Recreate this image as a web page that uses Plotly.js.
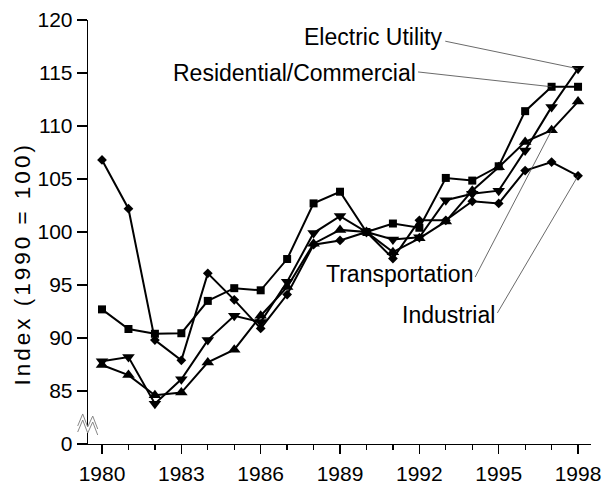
<!DOCTYPE html>
<html>
<head>
<meta charset="utf-8">
<script src="https://cdn.plot.ly/plotly-3.0.1.min.js"></script>
<style>
html,body{margin:0;padding:0;background:#fff;}
#chart{width:605px;height:485px;}
.annotation[data-index="4"] text{letter-spacing:3px;}
</style>
</head>
<body>
<div id="chart"></div>
<script>
var years = [1980,1981,1982,1983,1984,1985,1986,1987,1988,1989,1990,1991,1992,1993,1994,1995,1996,1997,1998];
var electricUtility = [87.8,88.2,83.8,86.1,89.8,92.1,91.5,95.3,99.9,101.5,100,99.3,99.5,103.0,103.6,103.9,107.7,111.8,115.4];
var residentialCommercial = [92.7,90.85,90.4,90.45,93.5,94.7,94.5,97.45,102.7,103.8,100,100.8,100.4,105.1,104.85,106.2,111.4,113.7,113.7];
var transportation = [87.45,86.5,84.6,84.85,87.7,88.9,92.1,94.8,98.9,100.2,100,98.1,99.4,101.0,103.9,106.1,108.5,109.6,112.3];
var industrial = [106.8,102.2,89.8,87.9,96.1,93.6,90.9,94.1,98.8,99.2,100,97.5,101.1,101.1,102.9,102.7,105.8,106.6,105.3];
var yTickVals = [80,85,90,95,100,105,110,115,120];
var yTickText = ['0','85','90','95','100','105','110','115','120'];
var xTickVals = [1980,1983,1986,1989,1992,1995,1998];

var FONT = 'Liberation Sans, Arial, sans-serif';
function series(name, y, sym, size){
  return {x: years, y: y, name: name, type: 'scatter', mode: 'lines+markers',
    line: {color: '#000', width: 2}, marker: {symbol: sym, size: size, color: '#000'},
    showlegend: false, cliponaxis: false};
}
var data = [
  series('Electric Utility', electricUtility, 'triangle-down', 11),
  series('Residential/Commercial', residentialCommercial, 'square', 8),
  series('Transportation', transportation, 'triangle-up', 11),
  series('Industrial', industrial, 'diamond', 7.5)
];

// plot-area helpers (paper coords from pixel offsets for the axis-break glyph)
var L = 88.3, R = 590.7, T = 20, B = 444;
function px(x){ return (x - L) / (R - L); }
function py(y){ return (B - y) / (B - T); }
function path(pts){ return 'M' + pts.map(function(p){ return px(p[0]).toFixed(4) + ',' + py(p[1]).toFixed(4); }).join(' L') ; }
var zz1 = [[78,426],[83,414],[88,427],[93,416],[98,429]];
var zz2 = [[78,432],[83,420],[88,433],[93,422],[98,435]];
var fillPts = zz1.concat(zz2.slice().reverse());

var shapes = [
  {type: 'path', xref: 'paper', yref: 'paper', path: path(fillPts) + ' Z', fillcolor: '#fff', line: {width: 0}},
  {type: 'path', xref: 'paper', yref: 'paper', path: path(zz1), line: {color: '#888', width: 1}},
  {type: 'path', xref: 'paper', yref: 'paper', path: path(zz2), line: {color: '#888', width: 1}},
  {type: 'line', xref: 'x', yref: 'y', x0: 1992.98, y0: 118.0, x1: years[18], y1: electricUtility[18], line: {color: '#444', width: 0.8}},
  {type: 'line', xref: 'x', yref: 'y', x0: 1991.95, y0: 115.1, x1: years[17], y1: residentialCommercial[17], line: {color: '#444', width: 0.8}},
  {type: 'line', xref: 'x', yref: 'y', x0: 1994.11, y0: 95.75, x1: years[17], y1: transportation[17], line: {color: '#444', width: 0.8}},
  {type: 'line', xref: 'x', yref: 'y', x0: 1994.95, y0: 92.36, x1: years[18], y1: industrial[18], line: {color: '#444', width: 0.8}}
];

function label(text, x, y){
  return {text: text, x: x, y: y, xref: 'x', yref: 'y', xanchor: 'right', yanchor: 'middle',
    showarrow: false, font: {family: FONT, size: 23, color: '#000'}};
}
var annotations = [
  label('Electric Utility', 1992.98, 118.35),
  label('Residential/Commercial', 1991.95, 115.0),
  label('Transportation', 1994.11, 96.0),
  label('Industrial', 1994.95, 92.15),
  {text: 'Index (1990 = 100)', textangle: -90, x: px(22), y: py(264), xref: 'paper', yref: 'paper',
   xanchor: 'center', yanchor: 'middle', showarrow: false, font: {family: FONT, size: 22.5, color: '#000'}}
];

var layout = {
  width: 605, height: 485,
  margin: {l: 88.3, r: 14.3, t: 20, b: 41},
  paper_bgcolor: '#fff', plot_bgcolor: '#fff',
  font: {family: FONT, size: 21, color: '#000'},
  xaxis: {range: [1979.47, 1998.49], tickvals: xTickVals, ticks: 'outside', ticklen: 9, tickwidth: 1.3,
    tickcolor: '#000', showline: true, linecolor: '#000', linewidth: 1.3, showgrid: false, zeroline: false,
    ticklabelstandoff: 1, tickfont: {family: FONT, size: 21},
    minor: {tickvals: years, ticks: 'outside', ticklen: 5, tickwidth: 1.3, tickcolor: '#000', showgrid: false}},
  yaxis: {range: [80, 120], tickvals: yTickVals, ticktext: yTickText, ticks: 'outside', ticklen: 10, tickwidth: 1.3,
    tickcolor: '#000', showline: true, linecolor: '#000', linewidth: 1.3, showgrid: false, zeroline: false,
    tickfont: {family: FONT, size: 21}},
  shapes: shapes,
  annotations: annotations,
  showlegend: false
};
Plotly.newPlot('chart', data, layout, {displayModeBar: false, staticPlot: true});
</script>
</body>
</html>
